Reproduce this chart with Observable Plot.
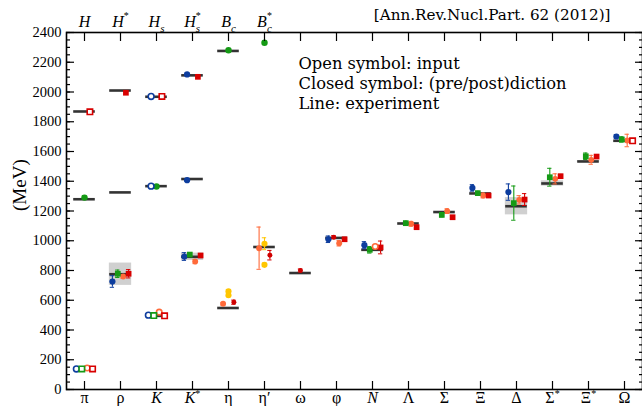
<!DOCTYPE html>
<html>
<head>
<meta charset="utf-8">
<script src="https://cdn.jsdelivr.net/npm/d3@7"></script>
<script src="https://cdn.jsdelivr.net/npm/@observablehq/plot@0.6"></script>
<style>
  html, body { margin: 0; padding: 0; background: #fff; }
</style>
</head>
<body>
<div id="chart"></div>
<script>
// ---- categories / tick labels ----
const light = ["π","ρ","K","K*","η","η′","ω","φ","N","Λ","Σ","Ξ","Δ","Σ*","Ξ*","Ω"];
const heavy = ["H","H*","Hs","H*s","Bc","B*c"];
const yMajor = [0,200,400,600,800,1000,1200,1400,1600,1800,2000,2200,2400];

// ---- experiment (MeV) ----
const lightExp = [138, 775, 495, 892, 548, 958, 783, 1019, 939, 1116, 1193, 1318, 1232, 1385, 1533, 1672];
const lightHalfWidth = [0, 75, 0, 25, 0, 0, 0, 0, 0, 0, 0, 0, 58, 18, 5, 0];
const charmExp = [1869, 2010, 1968, 2112];            // D, D*, Ds, Ds*
const bottomExp = [1279, 1325, 1367, 1415, 2276];     // B, B*, Bs, Bs*, Bc  (minus 4000 MeV)

// ---- lattice results: [hadron, mass, error, open(input)] ----
const blueLight = [["π",138,0,1],["ρ",726,39,0],["K",500,0,1],["K*",894,26,0],["φ",1010,22,0],
  ["N",970,24,0],["Ξ",1355,22,0],["Δ",1327,55,0],["Ω",1701,12,0]];
const greenLight = [["π",138,0,1],["ρ",778,25,0],["K",497,0,1],["K*",907,12,0],["N",939,22,0],
  ["Λ",1118,14,0],["Σ",1174,14,0],["Ξ",1320,12,0],["Δ",1253,115,0],["Σ*",1427,60,0],["Ξ*",1568,22,0],["Ω",1681,18,0]];
const orangeLight = [["π",145,0,1],["ρ",760,12,0],["K",520,0,1],["K*",860,14,0],["η",576,8,0],["η′",950,142,0],
  ["φ",983,18,0],["N",961,0,1],["Λ",1114,16,0],["Σ",1199,16,0],["Ξ",1304,16,0],["Δ",1275,28,0],
  ["Σ*",1416,34,0],["Ξ*",1544,30,0],["Ω",1674,42,0]];
const redLight = [["π",138,0,1],["ρ",778,28,0],["K",495,0,1],["K*",901,10,0],["φ",1010,6,0],["N",955,43,0],
  ["Λ",1091,12,0],["Σ",1158,12,0],["Ξ",1304,8,0],["Δ",1277,40,0],["Σ*",1434,12,0],["Ξ*",1566,10,0],["Ω",1672,0,1]];
const yellowLight = [["η",661,10,0],["η",634,10,0],["η′",980,40,0],["η′",838,12,0]];
const darkredLight = [["η",587,14,0],["η′",903,32,0],["ω",800,10,0],["φ",1024,10,0]];
const blueHeavy = [["Hs",1970,0,1],["Hs",1367,0,1],["H*s",2118,8,0],["H*s",1407,8,0]];
const greenHeavy = [["H",1290,12,0],["Hs",1365,0,0],["Bc",2281,0,0],["B*c",2331,0,0]];
const redHeavy = [["H",1867,0,1],["H*",1995,0,0],["Hs",1970,0,1],["H*s",2102,0,0]];

// ---- slot order within a column ----
const lightSlots = ["blue","green","orange","red"];
const etaSlots = ["orange","yellow","darkred"];
const phiSlots = ["blue","darkred","orange","red"];
const heavySlots = ["blue","green","red"];
function slotsFor(cat, group) {
  if (group === "heavy") return heavySlots;
  if (cat === "η" || cat === "η′") return etaSlots;
  if (cat === "ω") return ["darkred"];
  if (cat === "φ") return phiSlots;
  return lightSlots;
}
const step = 0.15;

const colors = {blue:"#0d3d9e", green:"#159a15", orange:"#ff6a3a", red:"#d80000", yellow:"#ffc600", darkred:"#d00000"};
const symbols = {blue:"circle", green:"square", orange:"circle", red:"square", yellow:"circle", darkred:"circle"};
const radii = {blue:3.4, green:3.7, orange:3.1, red:3.7, yellow:3.3, darkred:2.2};

const rows = [];
function add(name, group, pts, symbolOverride) {
  const cats = group === "heavy" ? heavy : light;
  for (const [c, m, e, o] of pts) {
    const slots = slotsFor(c, group);
    const k = slots.indexOf(name);
    rows.push({x: cats.indexOf(c) + (k - (slots.length - 1) / 2) * step, m, e, open: !!o,
      color: colors[name], symbol: symbolOverride || symbols[name], r: radii[name]});
  }
}
add("blue","light",blueLight);
add("green","light",greenLight);
add("orange","light",orangeLight);
add("red","light",redLight);
add("yellow","light",yellowLight);
add("darkred","light",darkredLight);
add("blue","heavy",blueHeavy);
add("green","heavy",greenHeavy,"circle");
add("red","heavy",redHeavy);

const exp = [];
lightExp.forEach((m, i) => exp.push({x: i, m, w: lightHalfWidth[i]}));
charmExp.forEach((m, i) => exp.push({x: i, m, w: 0}));
bottomExp.forEach((m, i) => exp.push({x: i, m, w: 0}));
const bands = exp.filter(d => d.w > 0);
const errs = rows.filter(d => d.e > 0);
const half = 0.3;
const cap = 0.06;

const ticks16 = d3.range(light.length);
const yMinor = d3.range(0, 2401, 50);
const noteFont = "'DejaVu Serif', 'Liberation Serif', serif";

const svg = Plot.plot({
  width: 642, height: 406,
  marginLeft: 66, marginRight: 0, marginTop: 32, marginBottom: 17,
  style: {fontFamily: "'Liberation Serif', serif", background: "#fff", color: "#000"},
  x: {domain: [-0.5, 15.5], axis: null},
  y: {domain: [0, 2400], axis: null},
  color: {type: "identity"},
  marks: [
    Plot.rect(bands, {x1: d => d.x - half - 0.01, x2: d => d.x + half + 0.01, y1: d => d.m - d.w, y2: d => d.m + d.w, fill: "#d0d0d0"}),
    Plot.ruleY(exp, {y: "m", x1: d => d.x - half, x2: d => d.x + half, stroke: "#333", strokeWidth: 2.6}),
    Plot.ruleX(errs, {x: "x", y1: d => d.m - d.e, y2: d => d.m + d.e, stroke: "color", strokeWidth: 1.1}),
    Plot.ruleY(errs, {y: d => d.m - d.e, x1: d => d.x - cap, x2: d => d.x + cap, stroke: "color", strokeWidth: 1}),
    Plot.ruleY(errs, {y: d => d.m + d.e, x1: d => d.x - cap, x2: d => d.x + cap, stroke: "color", strokeWidth: 1}),
    Plot.dot(rows.filter(d => !d.open && d.symbol === "circle"), {x: "x", y: "m", r: "r", fill: "color", symbol: "circle"}),
    Plot.dot(rows.filter(d => !d.open && d.symbol === "square"), {x: "x", y: "m", r: "r", fill: "color", symbol: "square"}),
    Plot.dot(rows.filter(d => d.open && d.symbol === "circle"), {x: "x", y: "m", r: d => d.r - 0.4, fill: "#fff", stroke: "color", strokeWidth: 1.6, symbol: "circle"}),
    Plot.dot(rows.filter(d => d.open && d.symbol === "square"), {x: "x", y: "m", r: d => d.r - 0.4, fill: "#fff", stroke: "color", strokeWidth: 1.6, symbol: "square"}),
    // axes
    Plot.axisY({anchor: "left", ticks: yMinor, tickSize: -4, text: null, label: null, strokeWidth: 1.2}),
    Plot.axisY({anchor: "left", ticks: yMajor, tickSize: -8, text: null, label: null, strokeWidth: 1.2}),
    Plot.axisY({anchor: "left", ticks: yMajor, tickSize: 0, tickPadding: 5, tickFormat: d => String(d), label: null, fontSize: 14.5}),
    Plot.axisY({anchor: "right", ticks: yMinor, tickSize: -4, text: null, label: null, strokeWidth: 1.2}),
    Plot.axisY({anchor: "right", ticks: yMajor, tickSize: -8, text: null, label: null, strokeWidth: 1.2}),
    Plot.axisX({anchor: "bottom", ticks: ticks16, tickSize: -8, text: null, label: null, strokeWidth: 1.2}),
    Plot.axisX({anchor: "bottom", ticks: ticks16, tickSize: 0, tickPadding: 2, tickFormat: i => light[i], label: null, fontSize: 16}),
    Plot.axisX({anchor: "top", ticks: ticks16, tickSize: -8, text: null, label: null, strokeWidth: 1.2}),
    Plot.axisX({anchor: "top", ticks: d3.range(heavy.length), tickSize: 0, tickPadding: 6, tickFormat: i => heavy[i], label: null, fontSize: 16}),
    Plot.frame({stroke: "#000", strokeWidth: 1.6}),
    // texts
    Plot.text(["(MeV)"], {text: d => d, frameAnchor: "left", dx: -47, rotate: -90, fontSize: 19}),
    Plot.text(["[Ann.Rev.Nucl.Part. 62 (2012)]"], {text: d => d, frameAnchor: "top-right", dx: -32, dy: -17, textAnchor: "end", lineAnchor: "middle", fontSize: 15.2, fontFamily: noteFont}),
    Plot.text(["Open symbol: input"], {text: d => d, frameAnchor: "top-left", dx: 232, dy: 31, textAnchor: "start", lineAnchor: "middle", fontSize: 16.3, fontFamily: noteFont}),
    Plot.text(["Closed symbol: (pre/post)diction"], {text: d => d, frameAnchor: "top-left", dx: 232, dy: 51, textAnchor: "start", lineAnchor: "middle", fontSize: 16.3, fontFamily: noteFont}),
    Plot.text(["Line: experiment"], {text: d => d, frameAnchor: "top-left", dx: 232, dy: 71, textAnchor: "start", lineAnchor: "middle", fontSize: 16.3, fontFamily: noteFont})
  ]
});

// typeset labels (italic, super/subscripts)
const it = s => `<tspan font-style="italic">${s}</tspan>`;
const sup = `<tspan dy="-6" font-size="10">*</tspan>`;
const rich = {
  "K": it("K"),
  "K*": it("K") + sup,
  "N": it("N"),
  "Σ*": "Σ" + sup,
  "Ξ*": "Ξ" + sup,
  "H": it("H"),
  "H*": it("H") + `<tspan dy="-8" font-size="10">*</tspan>`,
  "Hs": it("H") + `<tspan dy="5" font-size="11" font-style="italic">s</tspan>`,
  "H*s": it("H") + `<tspan dy="-8" font-size="10">*</tspan><tspan dx="-5" dy="13" font-size="11" font-style="italic">s</tspan>`,
  "Bc": it("B") + `<tspan dy="5" font-size="11" font-style="italic">c</tspan>`,
  "B*c": it("B") + `<tspan dy="-8" font-size="10">*</tspan><tspan dx="-5" dy="13" font-size="11" font-style="italic">c</tspan>`
};
svg.querySelectorAll('g[aria-label$="tick label"] text').forEach(t => {
  const s = t.textContent;
  if (rich[s]) t.innerHTML = rich[s];
});
document.getElementById("chart").appendChild(svg);
</script>
</body>
</html>
